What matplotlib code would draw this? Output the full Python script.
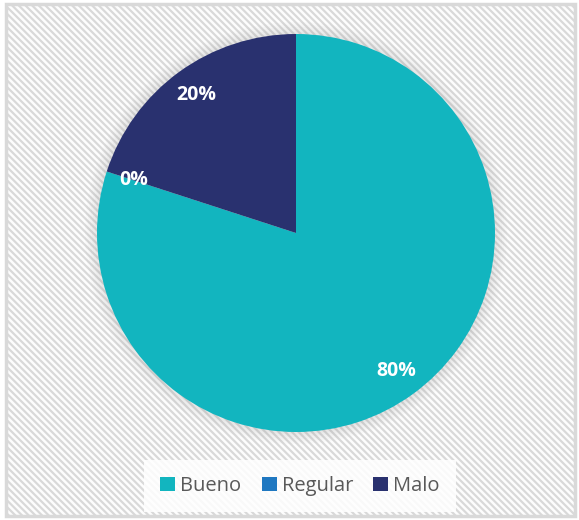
import matplotlib

matplotlib.use("Agg")
import matplotlib.pyplot as plt
from matplotlib.patches import Rectangle, Circle

labels = ["Bueno", "Regular", "Malo"]
values = [80, 0, 20]
colors = ["#12B5BF", "#1F78C1", "#29316F"]

W, H = 579, 520
plt.rcParams["hatch.color"] = "#F3F3F3"
plt.rcParams["hatch.linewidth"] = 1.6

fig = plt.figure(figsize=(W / 100, H / 100), dpi=100)
fig.patch.set_facecolor("white")

# patterned chart background with a light gray frame
bg = Rectangle((6 / W, 4 / H), (W - 10) / W, (H - 8) / H, transform=fig.transFigure,
               facecolor="#FDFDFD", edgecolor="#D9D9D9", linewidth=2.5,
               hatch="\\\\\\\\\\", zorder=-5)
fig.patches.append(bg)

cx, cy, r = 296, 233, 199
ax = fig.add_axes([(cx - 1.1 * r) / W, (H - cy - 1.1 * r) / H, 2.2 * r / W, 2.2 * r / H])
ax.set_facecolor("none")
ax.set_zorder(2)

# soft glow around the pie
for i, a in enumerate([0.035, 0.04, 0.045, 0.05, 0.06]):
    ax.add_patch(Circle((0, 0), 1.0 + 0.06 - i * 0.012, facecolor="#9E9E9E",
                        edgecolor="none", alpha=a, zorder=0))

wedges, _, autotexts = ax.pie(
    values, colors=colors, startangle=90, counterclock=False,
    autopct="%1.0f%%", pctdistance=0.855, radius=1.0,
    wedgeprops={"linewidth": 0},
    textprops={"color": "white", "fontsize": 14, "fontweight": "bold",
               "family": ["Open Sans", "DejaVu Sans"]},
)
ax.set_xlim(-1.1, 1.1)
ax.set_ylim(-1.1, 1.1)
ax.set_aspect("equal")
ax.axis("off")

leg = fig.legend(wedges, labels, loc="center", bbox_to_anchor=(300 / W, 1 - 486 / H),
                 ncol=3, frameon=True, fancybox=False, handlelength=0.75,
                 handleheight=0.75, handletextpad=0.25, columnspacing=1.0,
                 borderpad=0.8, prop={"family": ["Open Sans", "DejaVu Sans"], "size": 14.5})
leg.get_frame().set_facecolor("white")
leg.get_frame().set_edgecolor("none")
leg.get_frame().set_alpha(0.85)
leg.set_zorder(3)
for t in leg.get_texts():
    t.set_color("#595959")

fig.savefig("out.png", dpi=100)
